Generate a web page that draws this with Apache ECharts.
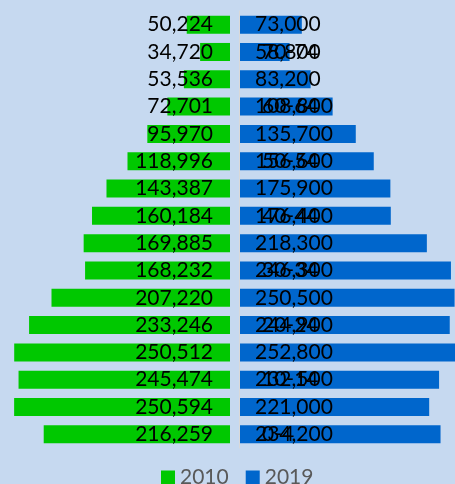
<!DOCTYPE html>
<html style="height: 100%">
<head>
    <meta charset="utf-8">
</head>
<body style="height: 100%; margin: 0">
<div id="container" style="height: 100%"></div>
<script type="text/javascript" src="https://cdn.jsdelivr.net/npm/echarts@6/dist/echarts.min.js"></script>
<script type="text/javascript">
    var dom = document.getElementById("container");
    var myChart = echarts.init(dom);

    // age groups, bottom (youngest) to top (oldest)
    var ages = ['0-4', '5-9', '10-14', '15-19', '20-24', '25-29', '30-34', '35-39',
        '40-44', '45-49', '50-54', '55-59', '60-64', '65-69', '70-74', '75+'];
    var pop2010 = [216259, 250594, 245474, 250512, 233246, 207220, 168232, 169885,
        160184, 143387, 118996, 95970, 72701, 53536, 34720, 50224];
    var pop2019 = [234200, 221000, 232500, 252800, 244900, 250500, 246300, 218300,
        176400, 175900, 156600, 135700, 108800, 83200, 58800, 73000];

    var font = 'Lato';

    function fmt(p) {
        return String(p.value).replace(/\B(?=(\d{3})+(?!\d))/g, ',');
    }

    var option = {
        backgroundColor: '#c6d9f0',
        textStyle: {fontFamily: font},
        legend: {
            left: 156,
            top: 462,
            icon: 'rect',
            itemWidth: 14,
            itemHeight: 14,
            itemGap: 17,
            textStyle: {fontFamily: font, fontSize: 21, color: '#595959'},
            data: ['2010', '2019']
        },
        grid: [
            {left: 0, width: 230, top: 11, height: 437},
            {left: 239, width: 216, top: 11, height: 437}
        ],
        xAxis: [
            {gridIndex: 0, type: 'value', inverse: true, min: 0, max: 267000, show: false},
            {gridIndex: 1, type: 'value', min: 0, max: 251000, show: false}
        ],
        yAxis: [
            {gridIndex: 0, type: 'category', data: ages, show: false},
            {
                gridIndex: 1, type: 'category', data: ages, z: 10,
                axisLine: {lineStyle: {color: '#d9d9d9', width: 1}},
                axisTick: {show: false},
                axisLabel: {
                    inside: true, margin: 23, interval: 1,
                    color: '#000', fontSize: 21, fontFamily: font
                }
            }
        ],
        series: [
            {
                name: '2010', type: 'bar', xAxisIndex: 0, yAxisIndex: 0,
                barCategoryGap: '34%',
                itemStyle: {color: '#00c800'},
                label: {
                    show: true, position: 'insideRight', distance: 17,
                    color: '#000', fontSize: 21, fontFamily: font, formatter: fmt
                },
                data: pop2010
            },
            {
                name: '2019', type: 'bar', xAxisIndex: 1, yAxisIndex: 1,
                barCategoryGap: '34%',
                itemStyle: {color: '#0066cc'},
                label: {
                    show: true, position: 'insideLeft', distance: 16,
                    color: '#000', fontSize: 21, fontFamily: font, formatter: fmt
                },
                data: pop2019
            }
        ]
    };

    myChart.setOption(option, true);
</script>
</body>
</html>
